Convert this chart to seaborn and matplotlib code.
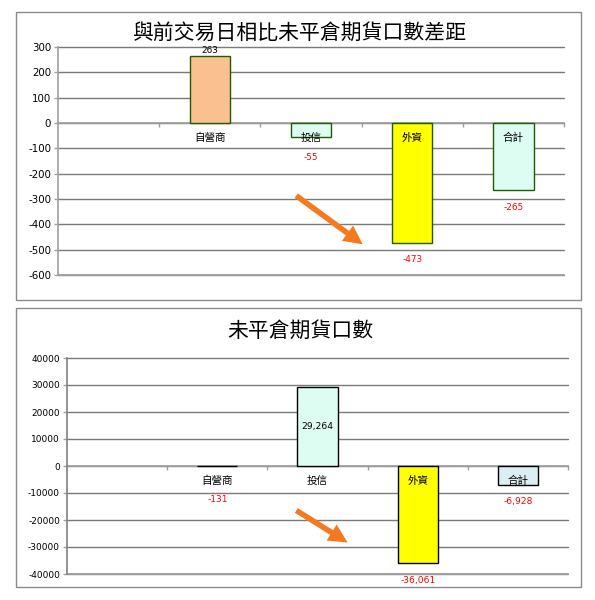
import matplotlib
matplotlib.use("Agg")
import matplotlib.pyplot as plt
import seaborn as sns
import pandas as pd
from matplotlib.patches import Rectangle, FancyArrowPatch

# ---------------- data ----------------
categories = ['自營商', '投信', '外資', '合計']
diff_values = [263, -55, -473, -265]
oi_values = [-131, 29264, -36061, -6928]
title_top = '與前交易日相比未平倉期貨口數差距'
title_bottom = '未平倉期貨口數'
top_ticks = list(range(-600, 301, 100))
bottom_ticks = list(range(-40000, 40001, 10000))
top_colors = ['#FAC090', '#DDFDF2', '#FFFF00', '#DDFDF2']
bottom_colors = ['#FFFFFF', '#DDFDF2', '#FFFF00', '#DBEEF3']

sns.set_theme(style='white')
plt.rcParams['font.family'] = ['DejaVu Sans', 'Noto Sans CJK TC']
CJK = ['Noto Sans CJK TC', 'DejaVu Sans']

W, H = 595, 600
fig = plt.figure(figsize=(W / 100, H / 100), dpi=100)
fig.patch.set_facecolor('white')


def fx(x):
    return x / W


def fy(y):
    return 1 - y / H


def panel_border(x0, y0, x1, y1):
    fig.add_artist(Rectangle((fx(x0), fy(y1)), fx(x1) - fx(x0), fy(y0) - fy(y1),
                             transform=fig.transFigure, fill=False,
                             ec='#8a8a8a', lw=1.0, zorder=0))


def draw_panel(ax, values, colors, edge, ticks, fmt, tick_fs, val_fs, pos_inside, ax_h_px):
    df = pd.DataFrame({'cat': categories, 'val': values})
    sns.barplot(data=df, x='cat', y='val', hue='cat', order=categories,
                hue_order=categories, palette=colors, dodge=False, width=0.4,
                edgecolor=edge, linewidth=1.0, legend=False, ax=ax, zorder=3,
                errorbar=None, saturation=1)
    ymin, ymax = ticks[0], ticks[-1]
    ax.set_xlim(-1.5, 3.5)
    ax.set_ylim(ymin, ymax)
    ax.set_yticks(ticks)
    ax.set_yticklabels([str(t) for t in ticks], fontsize=tick_fs, color='black')
    ax.set_xticks([-0.5, 0.5, 1.5, 2.5, 3.5])
    ax.set_xticklabels([])
    ax.set_xlabel('')
    ax.set_ylabel('')
    for s in ['top', 'right']:
        ax.spines[s].set_visible(False)
    ax.spines['bottom'].set_position(('data', 0))
    ax.spines['bottom'].set_color('#a0a0a0')
    ax.spines['bottom'].set_linewidth(1.2)
    ax.spines['bottom'].set_zorder(2)
    ax.spines['left'].set_color('#a0a0a0')
    ax.spines['left'].set_linewidth(1.2)
    ax.tick_params(axis='x', direction='out', length=3, width=1, color='#a0a0a0',
                   bottom=True, pad=0)
    ax.tick_params(axis='y', direction='out', length=3, width=1, color='#a0a0a0',
                   left=True, pad=2)
    ax.yaxis.grid(True, color='#7a7a7a', lw=1.0, zorder=1)
    ax.set_axisbelow(True)
    ax.set_facecolor('white')
    for gl in ax.get_ygridlines():
        gl.set_clip_on(False)
    ax.axhline(ymin, color='#a0a0a0', lw=1.4, zorder=1, clip_on=False)

    ppu = ax_h_px / (ymax - ymin)
    pt = 0.72  # px -> pt at 100 dpi
    for i, (c, v) in enumerate(zip(categories, values)):
        ax.annotate(c, (i, 0), xytext=(0, -15 * pt), textcoords='offset points',
                    ha='center', va='center', fontsize=7.6, family=CJK,
                    color='black', zorder=6)
        txt = fmt(v)
        if v >= 0:
            if pos_inside:
                ax.annotate(txt, (i, v / 2), ha='center', va='center',
                            fontsize=val_fs, color='black', zorder=6)
            else:
                ax.annotate(txt, (i, v), xytext=(0, 1), textcoords='offset points',
                            ha='center', va='bottom', fontsize=val_fs,
                            color='black', zorder=6)
        else:
            off = max(abs(v) * ppu + 17, 34)
            ax.annotate(txt, (i, 0), xytext=(0, -off * pt), textcoords='offset points',
                        ha='center', va='center', fontsize=val_fs,
                        color='#FF0000', zorder=6)


# ---------------- top panel ----------------
panel_border(16, 12, 581, 300)
t_l, t_r, t_t, t_b = 58, 564, 47, 275
ax1 = fig.add_axes([fx(t_l), fy(t_b), fx(t_r) - fx(t_l), fy(t_t) - fy(t_b)])
draw_panel(ax1, diff_values, top_colors, '#1F5C00', top_ticks,
           lambda v: f'{v}', 7.4, 6.4, False, t_b - t_t)
fig.text(fx(299), fy(33), title_top, ha='center', va='center',
         fontsize=15, family=CJK, color='black')

# ---------------- bottom panel ----------------
panel_border(16, 308, 581, 587)
b_l, b_r, b_t, b_b = 67, 568, 358, 574
ax2 = fig.add_axes([fx(b_l), fy(b_b), fx(b_r) - fx(b_l), fy(b_t) - fy(b_b)])
draw_panel(ax2, oi_values, bottom_colors, '#000000', bottom_ticks,
           lambda v: f'{v:,}', 6.5, 6.6, True, b_b - b_t)
ax2.spines['left'].set_color('#808080')
fig.text(fx(300), fy(331), title_bottom, ha='center', va='center',
         fontsize=15, family=CJK, color='black')

# ---------------- arrows ----------------
for (x0, y0, x1, y1) in [(294, 194, 365, 246), (294, 509, 350, 544)]:
    arr = FancyArrowPatch((fx(x0), fy(y0)), (fx(x1), fy(y1)),
                          transform=fig.transFigure,
                          arrowstyle='simple,head_width=3.4,head_length=3.4,tail_width=1.0',
                          mutation_scale=4, color='#F57A1F', lw=0, zorder=10)
    fig.add_artist(arr)

fig.savefig('out.png', dpi=100, facecolor='white')
